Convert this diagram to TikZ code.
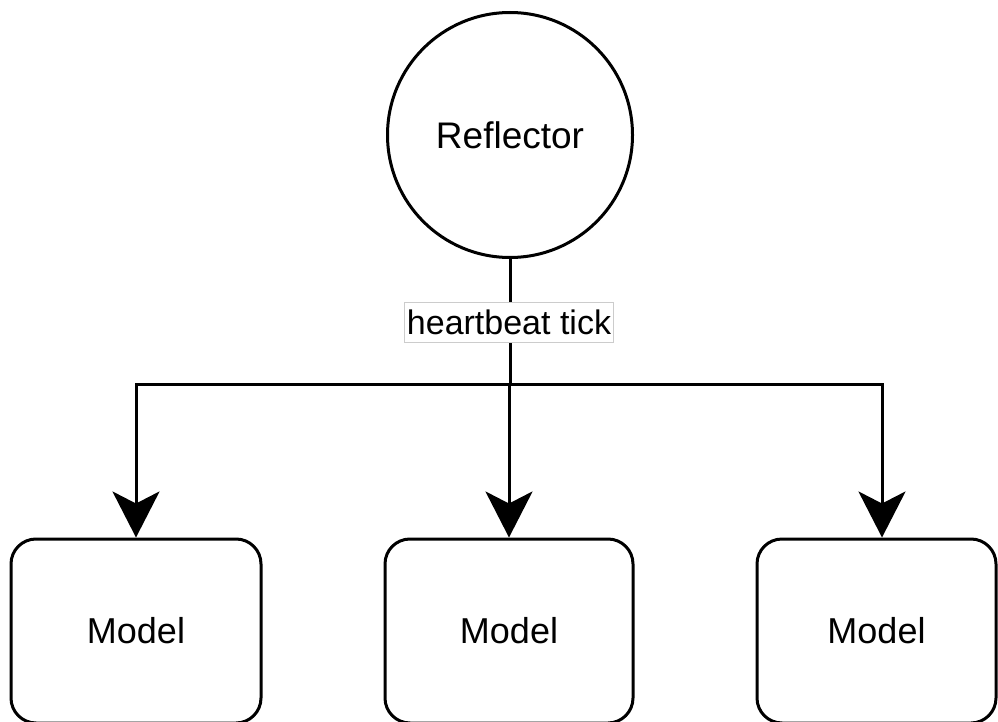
\documentclass[tikz,border=0pt]{standalone}
\usepackage{fontspec}
\setmainfont{Liberation Sans}
\usetikzlibrary{arrows.meta}
\begin{document}
\begin{tikzpicture}[x=1pt,y=-1pt,
  line width=3pt,
  hub/.style={circle,draw,minimum size=245pt,inner sep=0pt,
    font=\fontsize{37}{44}\selectfont},
  modelbox/.style={draw,rounded corners=25pt,minimum height=184pt,inner sep=0pt,
    font=\fontsize{36}{43}\selectfont},
  ticklabel/.style={fill=white,draw=black!20,line width=1pt,inner sep=0pt,
    minimum width=209pt,minimum height=40pt,
    font=\fontsize{34}{40}\selectfont},
  link/.style={-{Stealth[length=46pt,width=47pt,inset=12pt]}}]
\useasboundingbox (0,0) rectangle (998,722);
\fill[white] (0,0) rectangle (998,722);
% broadcaster
\node[hub] (refl) at (510,135) {Reflector};
% receivers
\node[modelbox,minimum width=250pt] (m1) at (136,631) {Model};
\node[modelbox,minimum width=248pt] (m2) at (509,631) {Model};
\node[modelbox,minimum width=239pt] (m3) at (876.5,631) {Model};
% trunk and split point
\coordinate (split) at (refl.south |- 0,384);
\draw (refl.south) -- (split);
\draw[link] (split) -- (split -| m2.north) -- (m2.north);
\draw[link] (split) -| (m1.north);
\draw[link] (split) -| ([xshift=5.5pt]m3.north);
% label on the trunk
\node[ticklabel] (tick) at (509,322) {heartbeat tick};
\end{tikzpicture}
\end{document}
